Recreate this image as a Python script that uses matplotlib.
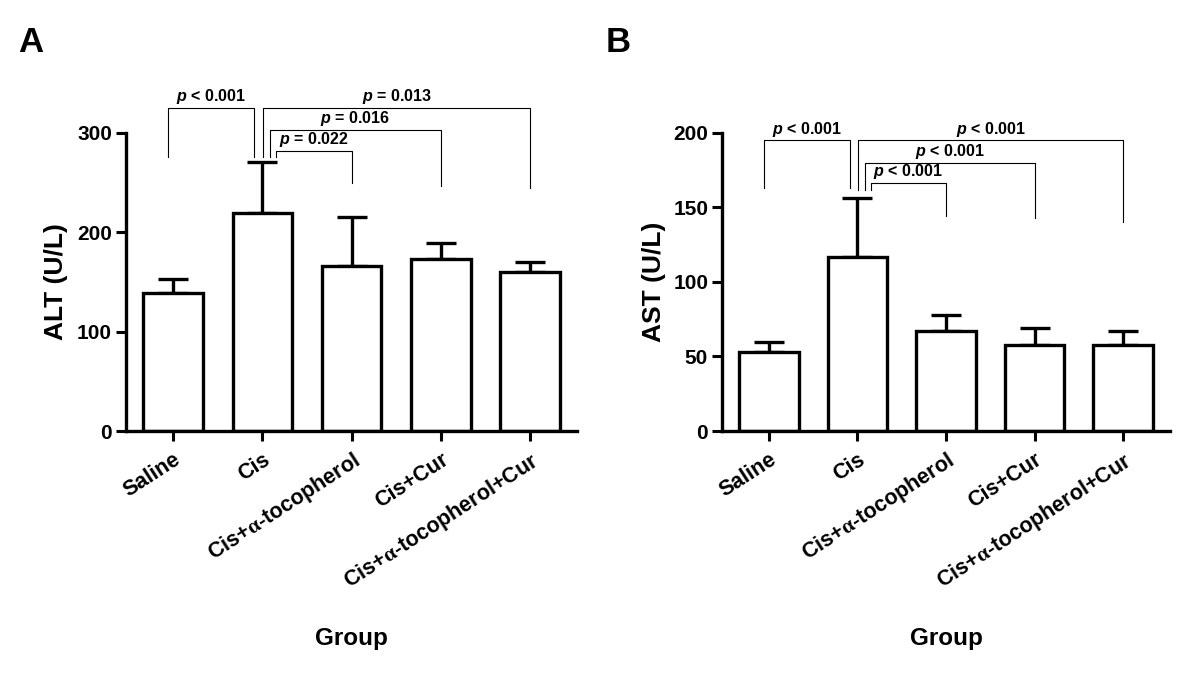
import matplotlib
matplotlib.use("Agg")
import matplotlib.pyplot as plt

plt.rcParams['font.family'] = ['Liberation Sans', 'DejaVu Sans']
plt.rcParams['font.weight'] = 'bold'
plt.rcParams['mathtext.fontset'] = 'custom'
plt.rcParams['mathtext.it'] = 'Liberation Sans:italic:bold'
plt.rcParams['mathtext.rm'] = 'Liberation Serif'
plt.rcParams['mathtext.bf'] = 'Liberation Sans:bold'

groups = ['Saline', 'Cis', r'Cis+$\mathrm{\alpha}$-tocopherol', 'Cis+Cur',
          r'Cis+$\mathrm{\alpha}$-tocopherol+Cur']

alt_mean = [139, 219, 166, 173, 160]
alt_err = [14, 52, 49, 16, 10]
ast_mean = [53, 117, 67, 58, 58]
ast_err = [7, 39, 11, 11, 9]

# brackets: (from group, to group, top, left leg end, right leg end, text)
alt_brackets = [
    (0, 1, 325, 276, 276, r'$p$ < 0.001'),
    (1, 4, 325, 276, 245, r'$p$ = 0.013'),
    (1, 3, 303, 276, 247, r'$p$ = 0.016'),
    (1, 2, 282, 276, 250, r'$p$ = 0.022'),
]
ast_brackets = [
    (0, 1, 195, 163, 163, r'$p$ < 0.001'),
    (1, 4, 195, 162, 140, r'$p$ < 0.001'),
    (1, 3, 180, 162, 143, r'$p$ < 0.001'),
    (1, 2, 166.5, 162, 144, r'$p$ < 0.001'),
]
# small x shifts of bracket legs next to the Cis bar
left_shift = {0: -0.06, 1: 1.01}
cis_shift = [0.91, 1.01, 1.08, 1.15]


def draw_panel(ax, means, errs, brackets, ylim, yticks, ylabel):
    x = list(range(len(groups)))
    ax.bar(x, means, width=0.67, color='white', edgecolor='black', linewidth=2.4, zorder=2)
    ax.errorbar(x, means, yerr=[[0] * len(errs), errs], fmt='none', ecolor='black',
                elinewidth=2.4, capsize=10.5, capthick=2.4, zorder=1)
    ax.set_xlim(-0.53, 4.53)
    ax.set_ylim(*ylim)
    ax.set_yticks(yticks)
    ax.set_xticks(x)
    ax.set_xticklabels(groups, rotation=33, ha='right', rotation_mode='anchor', fontsize=15.5)
    ax.tick_params(axis='y', labelsize=15, width=2.2, length=7, pad=3)
    ax.tick_params(axis='x', width=2.2, length=7, pad=6)
    for s in ['top', 'right']:
        ax.spines[s].set_visible(False)
    for s in ['left', 'bottom']:
        ax.spines[s].set_linewidth(2.4)
    ax.set_ylabel(ylabel, fontsize=19, fontweight='bold')
    ax.set_xlabel('Group', fontsize=17.5, fontweight='bold')

    for i, (a, b, top, yl, yr, txt) in enumerate(brackets):
        if a == 0:
            x1 = left_shift[0]
            x2 = cis_shift[0]
        else:
            x1 = cis_shift[i]
            x2 = b + 0.0
        ax.plot([x1, x1, x2, x2], [yl, top, top, yr], color='black', lw=0.8, clip_on=False)
        ax.text((x1 + x2) / 2, top + ylim[1] * 0.006, txt, ha='center', va='bottom',
                fontsize=11.5, fontweight='bold')


fig = plt.figure(figsize=(12, 6.76), dpi=100)
ax1 = fig.add_axes([0.105, 0.3624, 0.376, 0.441])
ax2 = fig.add_axes([0.6017, 0.3624, 0.3733, 0.441])

draw_panel(ax1, alt_mean, alt_err, alt_brackets, (0, 300), [0, 100, 200, 300], 'ALT (U/L)')
draw_panel(ax2, ast_mean, ast_err, ast_brackets, (0, 200), [0, 50, 100, 150, 200], 'AST (U/L)')

ax1.yaxis.set_label_coords(-0.129, 0.5)
ax2.yaxis.set_label_coords(-0.125, 0.5)
ax1.xaxis.set_label_coords(0.5, -0.658)
ax2.xaxis.set_label_coords(0.5, -0.658)

fig.text(31 / 1200, 1 - 43 / 676, 'A', fontsize=25, fontweight='bold', ha='center', va='center')
fig.text(618 / 1200, 1 - 43 / 676, 'B', fontsize=25, fontweight='bold', ha='center', va='center')

fig.savefig('out.png', dpi=100)
